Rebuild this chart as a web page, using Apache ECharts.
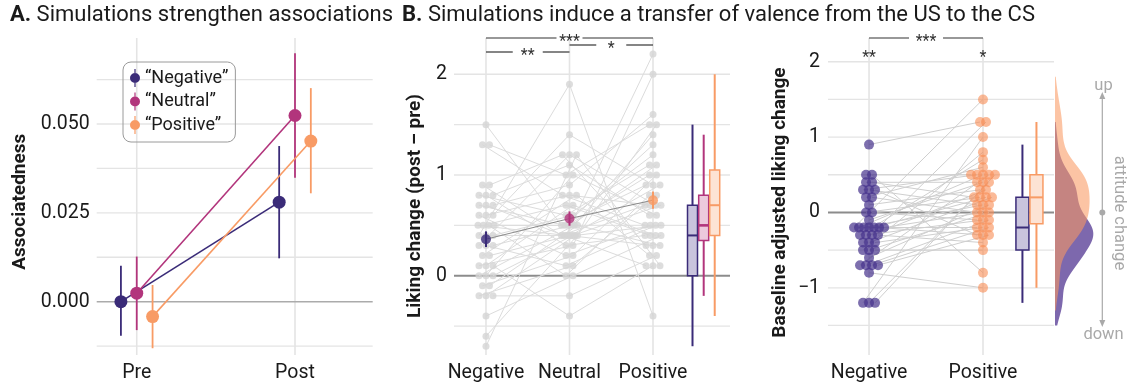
<!DOCTYPE html>
<html>
<head>
<meta charset="utf-8">
<script src="https://cdn.jsdelivr.net/npm/echarts@6/dist/echarts.min.js"></script>
<style>
  html, body { margin: 0; padding: 0; background: #fff; }
  #chart { width: 1128px; height: 389px; }
</style>
</head>
<body>
<div id="chart"></div>
<script>
// ---------- Panel A: associatedness before / after simulation ----------
const assocGroups = ['“Negative”', '“Neutral”', '“Positive”'];
const assocTimes = ['Pre', 'Post'];
const assocMean = [[0.0000, 0.0280], [0.0024, 0.0524], [-0.0042, 0.0452]];
const assocLow  = [[-0.0096, 0.0122], [-0.0080, 0.0349], [-0.0131, 0.0305]];
const assocHigh = [[0.0101, 0.0438], [0.0127, 0.0699], [0.0047, 0.0601]];
const assocTicks = [0, 0.025, 0.05];

// ---------- Panel B (left): liking change per participant ----------
const likingCategories = ['Negative', 'Neutral', 'Positive'];
const likingNeg = [1.5, 1.3, 1.3, 0.9, 0.9, 0.8, 0.8, 0.8, 0.7, 0.7, 0.7, 0.6, 0.6, 0.6, 0.5, 0.5, 0.5, 0.5, 0.4, 0.4,
                   0.4, 0.3, 0.3, 0.3, 0.2, 0.2, 0.1, 0.1, 0.1, 0.0, 0.0, 0.0, -0.1, -0.1, -0.2, -0.2, -0.2, -0.4, -0.6, -0.7];
const likingNeu = [0.5, 0.8, 1.0, 0.4, 1.2, 0.6, 0.3, 1.1, 0.5, 0.4, 0.9, 0.2, 0.8, 1.4, 0.4, 0.7, 0.0, 0.5, 1.9, 0.4,
                   0.6, 1.2, 0.1, 0.5, 0.8, 0.4, 0.3, 0.7, -0.4, 0.5, 1.0, 0.4, 0.2, 0.5, 0.1, 0.4, -0.2, 0.0, 0.4, 1.2];
const likingPos = [0.9, 0.5, 1.5, 0.7, 0.3, 1.1, 0.4, 0.6, 1.3, 0.1, 1.6, 0.5, 0.7, 0.9, 2.2, 0.4, 0.8, 1.0, -0.4, 0.3,
                   1.2, 0.7, 0.5, 1.1, 0.2, 0.9, 2.0, 0.4, 0.1, 1.4, 0.6, 0.7, 1.0, 0.3, 0.8, 0.5, 0.2, 0.4, 1.5, 0.1];
// [min, q1, median, q3, max]
const likingBoxes = [[-0.7, 0.0, 0.4, 0.7, 1.5], [-0.2, 0.35, 0.5, 0.8, 1.4], [-0.4, 0.4, 0.7, 1.05, 2.0]];
const likingTicks = [0, 1, 2];

// ---------- Panel B (right): baseline adjusted liking change ----------
const adjCategories = ['Negative', 'Positive'];
const adjNeg = [0.9, 0.5, 0.5, 0.4, 0.4, 0.3, 0.3, 0.3, 0.2, 0.2, 0.1, 0.0, 0.0, -0.1, -0.2, -0.2, -0.2, -0.2, -0.2, -0.2,
                -0.2, -0.3, -0.3, -0.3, -0.3, -0.4, -0.4, -0.4, -0.5, -0.5, -0.5, -0.6, -0.7, -0.7, -0.7, -0.7, -0.8, -1.2, -1.2, -1.2];
const adjPos = [1.2, 0.5, -0.8, 0.4, 0.2, 0.5, 0.1, -0.3, 0.6, 0.0, 0.3, 0.2, -0.1, 0.4, 1.5, 0.5, 0.1, -0.2, 0.2, -0.3,
                0.0, 0.7, -0.1, 0.3, -0.4, 1.2, 0.2, -0.2, 0.8, 0.0, -0.5, 0.1, 0.5, -0.1, -0.2, -0.3, -1.0, 1.0, 0.4, 0.5];
const adjBoxes = [[-1.2, -0.5, -0.2, 0.2, 0.9], [-1.0, -0.15, 0.2, 0.5, 1.2]];
const adjTicks = [-1, 0, 1, 2];

// ---------- styling ----------
const FONT = 'Roboto, "Noto Sans", "DejaVu Sans", sans-serif';
const TEXT = '#1a1a1a';
const GRIDC = '#e4e4e4';
const COL = ['#3a2b78', '#b2357c', '#f89b65'];
const BOXFILL = ['#c9c4dd', '#ecc9dc', '#fde3d4'];
const DOT_PURPLE = '#46328c';
const DOT_ORANGE = '#f88c54';
const FS_TICK = 19.5, FS_AXIS = 19, FS_TITLE = 22, FS_LEGEND = 18;

const GRID_A  = { left: 96.7, top: 38, width: 276, height: 317 };
const GRID_B1 = { left: 454, top: 38, width: 276, height: 317 };
const GRID_B2 = { left: 828, top: 38, width: 226, height: 317 };
const GRID_D  = { left: 1055, top: 38, width: 38.3, height: 317 };

const X_A = [0.747, 2.491], Y_A = [-0.0150, 0.0742];
const X_B1 = [0.617, 3.922], Y_B1 = [-0.787, 2.36];
const X_B2 = [0.640, 2.623], Y_B2 = [-1.892, 2.315];

const unitB1 = GRID_B1.width / (X_B1[1] - X_B1[0]);
const unitB2 = GRID_B2.width / (X_B2[1] - X_B2[0]);

const DODGE_A = [-0.1, 0, 0.1];
const BOX_X_B1 = [3.473, 3.607, 3.739];
const BOX_X_B2 = [2.346, 2.469];

// ---------- helpers ----------
function mean(v) { return v.reduce((s, x) => s + x, 0) / v.length; }
function sd(v) { const m = mean(v); return Math.sqrt(v.reduce((s, x) => s + (x - m) ** 2, 0) / (v.length - 1)); }
function quantile(v, p) {
  const s = [...v].sort((a, b) => a - b); const h = (s.length - 1) * p; const lo = Math.floor(h);
  return s[lo] + (h - lo) * (s[Math.min(lo + 1, s.length - 1)] - s[lo]);
}
function bwNrd0(v) {
  const iqr = quantile(v, 0.75) - quantile(v, 0.25);
  return 0.9 * Math.min(sd(v), iqr / 1.34) * Math.pow(v.length, -0.2);
}
function kde(v, pad) {
  const bw = bwNrd0(v);
  const lo = Math.min(...v) - pad, hi = Math.max(...v) + pad;
  const pts = [];
  for (let y = lo; y <= hi + 1e-9; y += 0.02) {
    let d = 0;
    v.forEach(x => { const z = (y - x) / bw; d += Math.exp(-0.5 * z * z); });
    pts.push([d / (v.length * bw * Math.sqrt(2 * Math.PI)), y]);
  }
  return pts;
}
// horizontal spread (in px) for points sharing the same value
function spread(values, stepPx, maxPx) {
  const counts = {}, seen = {};
  values.forEach(v => { const k = v.toFixed(2); counts[k] = (counts[k] || 0) + 1; });
  return values.map(v => {
    const k = v.toFixed(2); const n = counts[k];
    const i = seen[k] = (seen[k] === undefined ? 0 : seen[k] + 1);
    const step = n > 1 ? Math.min(stepPx, maxPx / (n - 1)) : 0;
    return (i - (n - 1) / 2) * step;
  });
}

function valAxis(gridIndex, range, label) {
  const ax = {
    type: 'value', gridIndex, min: range[0], max: range[1],
    axisLine: { show: false }, axisTick: { show: false }, splitLine: { show: false },
    axisLabel: { show: false }
  };
  if (label) ax.axisLabel = Object.assign({ show: true, color: TEXT, fontSize: FS_TICK, fontFamily: FONT }, label);
  return ax;
}

function gridLines(axisIndex, hVals, vVals, zero) {
  return {
    type: 'custom', xAxisIndex: axisIndex, yAxisIndex: axisIndex, z: 0, silent: true,
    data: [[1, 0]],
    renderItem(params, api) {
      const cs = params.coordSys; const ch = [];
      hVals.forEach(v => {
        const y = api.coord([1, v])[1];
        ch.push({ type: 'line', shape: { x1: cs.x, y1: y, x2: cs.x + cs.width, y2: y }, style: { stroke: GRIDC, lineWidth: 1.3 } });
      });
      vVals.forEach(v => {
        const x = api.coord([v, 0])[0];
        ch.push({ type: 'line', shape: { x1: x, y1: cs.y, x2: x, y2: cs.y + cs.height }, style: { stroke: GRIDC, lineWidth: 1.6 } });
      });
      if (zero) {
        const y = api.coord([1, 0])[1];
        ch.push({ type: 'line', shape: { x1: cs.x, y1: y, x2: cs.x + cs.width, y2: y }, style: { stroke: zero.color, lineWidth: zero.width } });
      }
      return { type: 'group', children: ch };
    }
  };
}

function errorBars(axisIndex, data, colors, width, z) {
  return {
    type: 'custom', xAxisIndex: axisIndex, yAxisIndex: axisIndex, z, silent: true,
    data,
    renderItem(params, api) {
      const a = api.coord([api.value(0), api.value(1)]);
      const b = api.coord([api.value(0), api.value(2)]);
      return { type: 'line', shape: { x1: a[0], y1: a[1], x2: b[0], y2: b[1] }, style: { stroke: colors[api.value(3)], lineWidth: width } };
    }
  };
}

function boxSeries(axisIndex, positions, boxes, colors, fills, widthPx, medWidths) {
  return {
    type: 'custom', xAxisIndex: axisIndex, yAxisIndex: axisIndex, z: 5, silent: true,
    data: boxes.map((b, i) => [positions[i], b[0], b[1], b[2], b[3], b[4], i]),
    renderItem(params, api) {
      const i = api.value(6);
      const x = api.coord([api.value(0), 0])[0];
      const y = k => api.coord([api.value(0), api.value(k)])[1];
      const h = widthPx / 2;
      return {
        type: 'group', children: [
          { type: 'line', shape: { x1: x, y1: y(1), x2: x, y2: y(5) }, style: { stroke: colors[i], lineWidth: 2 } },
          { type: 'rect', shape: { x: x - h, y: y(4), width: widthPx, height: y(2) - y(4) }, style: { fill: fills[i], stroke: colors[i], lineWidth: 1.5 } },
          { type: 'line', shape: { x1: x - h, y1: y(3), x2: x + h, y2: y(3) }, style: { stroke: colors[i], lineWidth: medWidths[i] } }
        ]
      };
    }
  };
}

function pathSeries(axisIndex, rows, color) {
  return {
    type: 'custom', xAxisIndex: axisIndex, yAxisIndex: axisIndex, z: 1, silent: true,
    data: rows,
    renderItem(params, api) {
      const pts = [];
      for (let k = 0; k < rows[0].length; k += 2) pts.push(api.coord([api.value(k), api.value(k + 1)]));
      return { type: 'polyline', shape: { points: pts }, style: { stroke: color, lineWidth: 1, fill: null } };
    }
  };
}

function densitySeries(curve, fill, opacity) {
  return {
    type: 'custom', xAxisIndex: 3, yAxisIndex: 3, z: 2, silent: true,
    data: [[0, 0]],
    renderItem(params, api) {
      const pts = [api.coord([0, curve[0][1]])];
      curve.forEach(p => pts.push(api.coord(p)));
      pts.push(api.coord([0, curve[curve.length - 1][1]]));
      return { type: 'polygon', shape: { points: pts }, style: { fill, opacity } };
    }
  };
}

// ---------- derived layouts ----------
// Panel A
const seriesA = [];
assocGroups.forEach((name, g) => {
  seriesA.push({
    type: 'line', name, xAxisIndex: 0, yAxisIndex: 0, z: 3,
    data: assocTimes.map((t, ti) => [ti + 1 + DODGE_A[g], assocMean[g][ti]]),
    symbol: 'circle', symbolSize: 13, showSymbol: true,
    lineStyle: { color: COL[g], width: 1.6 }, itemStyle: { color: COL[g] }
  });
});
const errA = [];
assocGroups.forEach((n, g) => assocTimes.forEach((t, ti) => errA.push([ti + 1 + DODGE_A[g], assocLow[g][ti], assocHigh[g][ti], g])));

// Panel B left
const likingSets = [likingNeg, likingNeu, likingPos];
const offB1 = likingSets.map(v => spread(v, 7, 16).map(px => px / unitB1));
const rowsB1 = likingNeg.map((_, i) => {
  const r = [];
  likingSets.forEach((v, c) => { r.push(c + 1 + offB1[c][i], v[i]); });
  return r;
});
const dotsB1 = [];
likingSets.forEach((v, c) => v.forEach((y, i) => dotsB1.push([c + 1 + offB1[c][i], y])));
const meansB1 = likingSets.map(mean);
const seB1 = likingSets.map(v => sd(v) / Math.sqrt(v.length));

// Panel B right
const adjSets = [adjNeg, adjPos];
const offB2 = adjSets.map(v => spread(v, 6, 30).map(px => px / unitB2));
const rowsB2 = adjNeg.map((_, i) => [1 + offB2[0][i], adjNeg[i], 2 + offB2[1][i], adjPos[i]]);
const dotsNeg = adjNeg.map((y, i) => [1 + offB2[0][i], y]);
const dotsPos = adjPos.map((y, i) => [2 + offB2[1][i], y]);

// densities
const densNeg = kde(adjNeg, 0.3);
const densPos = kde(adjPos, 0.3);
const densMax = Math.max(...densNeg.map(p => p[0]), ...densPos.map(p => p[0]));

const minusFmt = v => (v < 0 ? '\u2212' + Math.abs(v) : String(v));

const legendIcon = 'path://M4.4,0h1.2v18h-1.2z M0,9a5,5 0 1,1 10,0a5,5 0 1,1 -10,0z';

const titleText = { fontSize: FS_TITLE, fontWeight: 'normal', color: TEXT, fontFamily: FONT,
  rich: { b: { fontSize: FS_TITLE, fontWeight: 'bold', color: TEXT, fontFamily: FONT } } };

const option = {
  animation: false,
  backgroundColor: '#fff',
  textStyle: { fontFamily: FONT },
  title: [
    { left: 10, top: 4, padding: 0, text: '{b|A.} Simulations strengthen associations', textStyle: titleText },
    { left: 402, top: 4, padding: 0, text: '{b|B.} Simulations induce a transfer of valence from the US to the CS', textStyle: titleText }
  ],
  legend: {
    orient: 'vertical', left: 123, top: 62,
    data: assocGroups.map(name => ({ name, icon: legendIcon })),
    itemWidth: 10, itemHeight: 18, itemGap: 5.5,
    padding: [7, 7, 8, 7],
    borderColor: '#9a9a9a', borderWidth: 1, borderRadius: 8,
    textStyle: { fontSize: FS_LEGEND, color: TEXT, fontFamily: FONT },
    selectedMode: false
  },
  grid: [
    Object.assign({ outerBoundsMode: 'none' }, GRID_A),
    Object.assign({ outerBoundsMode: 'none' }, GRID_B1),
    Object.assign({ outerBoundsMode: 'none' }, GRID_B2),
    Object.assign({ outerBoundsMode: 'none' }, GRID_D)
  ],
  xAxis: [
    valAxis(0, X_A, { customValues: [1, 2], formatter: v => assocTimes[Math.round(v) - 1], margin: 8 }),
    valAxis(1, X_B1, { customValues: [1, 2, 3], formatter: v => likingCategories[Math.round(v) - 1], margin: 8 }),
    valAxis(2, X_B2, { customValues: [1, 2], formatter: v => adjCategories[Math.round(v) - 1], margin: 8 }),
    valAxis(3, [0, densMax])
  ],
  yAxis: [
    valAxis(0, Y_A, { customValues: assocTicks, formatter: v => v.toFixed(3), margin: 7 }),
    valAxis(1, Y_B1, { customValues: likingTicks, formatter: v => String(v), margin: 7 }),
    valAxis(2, Y_B2, { customValues: adjTicks, formatter: minusFmt, margin: 8 }),
    valAxis(3, Y_B2)
  ],
  series: [
    // Panel A
    gridLines(0, [-0.0125, 0.0125, 0.025, 0.0375, 0.05, 0.0625], [1, 2], { color: '#ababab', width: 1.5 }),
    errorBars(0, errA, COL, 1.8, 2),
    ...seriesA,

    // Panel B left
    gridLines(1, [-0.5, 0.5, 1, 1.5, 2], [1, 2, 3], { color: '#8c8c8c', width: 2 }),
    pathSeries(1, rowsB1, '#dcdcdc'),
    { type: 'scatter', xAxisIndex: 1, yAxisIndex: 1, z: 2, silent: true, data: dotsB1,
      symbolSize: 7, itemStyle: { color: '#d4d4d4' } },
    { type: 'line', xAxisIndex: 1, yAxisIndex: 1, z: 3, silent: true,
      data: meansB1.map((m, c) => [c + 1, m]), symbol: 'none', lineStyle: { color: '#8a8a8a', width: 1 } },
    errorBars(1, meansB1.map((m, c) => [c + 1, m - seB1[c], m + seB1[c], c]), COL, 2, 4),
    { type: 'scatter', xAxisIndex: 1, yAxisIndex: 1, z: 5, silent: true,
      data: meansB1.map((m, c) => ({ value: [c + 1, m], itemStyle: { color: COL[c] } })), symbolSize: 10 },
    boxSeries(1, BOX_X_B1, likingBoxes, COL, BOXFILL, 10, [2, 2.6, 2]),

    // Panel B right
    gridLines(2, [-1.5, -1, -0.5, 0.5, 1, 1.5, 2], [1, 2], { color: '#8c8c8c', width: 2 }),
    pathSeries(2, rowsB2, '#cfcfcf'),
    { type: 'scatter', xAxisIndex: 2, yAxisIndex: 2, z: 2, silent: true, data: dotsNeg,
      symbolSize: 10, itemStyle: { color: DOT_PURPLE, opacity: 0.7 } },
    { type: 'scatter', xAxisIndex: 2, yAxisIndex: 2, z: 2, silent: true, data: dotsPos,
      symbolSize: 10, itemStyle: { color: DOT_ORANGE, opacity: 0.6 } },
    boxSeries(2, BOX_X_B2, adjBoxes, [COL[0], COL[2]], [BOXFILL[0], BOXFILL[2]], 13, [2, 2]),

    // densities
    densitySeries(densNeg, '#7d68ad', 1),
    densitySeries(densPos, '#fa9962', 0.58)
  ]
};

const chart = echarts.init(document.getElementById('chart'));
chart.setOption(option);

// ---------- annotations ----------
const px = (ai, v) => chart.convertToPixel({ xAxisIndex: ai }, v);
const py = (ai, v) => chart.convertToPixel({ yAxisIndex: ai }, v);
const g = [];
function text(x, y, str, style, rotation) {
  const el = { type: 'text', x, y, silent: true,
    style: Object.assign({ text: str, fill: TEXT, fontSize: 16, fontFamily: FONT,
      align: 'center', textAlign: 'center', verticalAlign: 'middle', textVerticalAlign: 'middle' }, style) };
  if (rotation) el.rotation = rotation;
  return el;
}
function seg(x1, y1, x2, y2, stroke, w) {
  return { type: 'line', silent: true, shape: { x1, y1, x2, y2 }, style: { stroke, lineWidth: w } };
}
function bracket(x1, x2, y, label, gap) {
  const xm = (x1 + x2) / 2;
  g.push(seg(x1, y, xm - gap / 2, y, '#333', 1.2));
  g.push(seg(xm + gap / 2, y, x2, y, '#333', 1.2));
  g.push(text(xm, y + 4.4, label, { fill: '#333', fontSize: 16 }));
}
bracket(px(1, 1), px(1, 3), 38, '***', 26);
bracket(px(1, 2), px(1, 3), 45, '*', 30);
bracket(px(1, 1), px(1, 2), 52, '**', 30);
bracket(px(2, 1), px(2, 2), 38, '***', 34);
g.push(text(px(2, 1), 57.5, '**', { fill: '#333' }));
g.push(text(px(2, 2), 57.5, '*', { fill: '#333' }));

// axis titles
const titleStyle = { fontSize: FS_AXIS, fontWeight: 'bold', fill: TEXT };
g.push(text(20, 201.7, 'Associatedness', titleStyle, Math.PI / 2));
g.push(text(415, 206, 'Liking change (post \u2013 pre)', titleStyle, Math.PI / 2));
g.push(text(780.5, 202.5, 'Baseline adjusted liking change', titleStyle, Math.PI / 2));

// attitude change arrow
const ax = 1102.3, yTop = 92, yBot = 327, yMid = py(2, 0);
const grey = '#a9a9a9';
g.push(seg(ax, yTop + 4, ax, yBot - 4, grey, 1.2));
g.push({ type: 'polygon', silent: true, shape: { points: [[ax, yTop], [ax - 3, yTop + 7], [ax + 3, yTop + 7]] }, style: { fill: grey } });
g.push({ type: 'polygon', silent: true, shape: { points: [[ax, yBot], [ax - 3, yBot - 7], [ax + 3, yBot - 7]] }, style: { fill: grey } });
g.push({ type: 'circle', silent: true, shape: { cx: ax, cy: yMid, r: 3 }, style: { fill: grey } });
g.push(text(1103.5, 86, 'up', { fill: grey, fontSize: 16.5 }));
g.push(text(1103.5, 334.5, 'down', { fill: grey, fontSize: 16.5 }));
g.push(text(1119, 213, 'attitude change', { fill: grey, fontSize: 16.5 }, -Math.PI / 2));

chart.setOption({ graphic: { elements: g } });
</script>
</body>
</html>
